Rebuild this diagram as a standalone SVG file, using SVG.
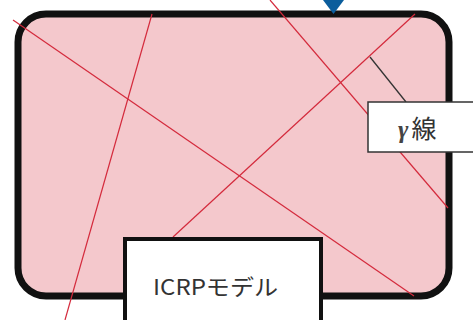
<svg xmlns="http://www.w3.org/2000/svg" width="473" height="320" viewBox="0 0 473 320">
  <style>
    .ray { stroke: #d42a3c; stroke-width: 1.2; fill: none; }
    .label-box { fill: #ffffff; }
    .label { font-family: "Noto Sans CJK JP", "Liberation Sans", sans-serif; fill: #333333; }
  </style>
  <rect width="473" height="320" fill="#ffffff"/>

  <!-- body region -->
  <g id="body">
    <rect x="18" y="14" width="431" height="282" rx="28" ry="28" fill="#f4c8cc" stroke="#111111" stroke-width="7"/>
  </g>

  <!-- incoming marker -->
  <g id="source-marker">
    <polygon points="323,0 344,0 333.5,14" fill="#0b5d9c"/>
  </g>

  <!-- photon tracks and leader -->
  <g id="connectors">
    <line class="ray" x1="13" y1="20" x2="414" y2="296"/>
    <line class="ray" x1="152" y1="14" x2="65" y2="320"/>
    <line class="ray" x1="270" y1="0" x2="448" y2="208"/>
    <line class="ray" x1="415" y1="14" x2="173" y2="237"/>
    <line x1="370" y1="57" x2="406" y2="102" stroke="#333333" stroke-width="1.3"/>
  </g>

  <g id="gamma-label">
    <rect class="label-box" x="368" y="102" width="110" height="50" stroke="#333333" stroke-width="1.5"/>
    <text class="label" x="398" y="138" font-size="25"><tspan font-family="Liberation Serif, serif" font-style="italic" font-weight="bold" fill="#444444">γ</tspan><tspan dx="3">線</tspan></text>
  </g>

  <g id="icrp-model">
    <rect class="label-box" x="125" y="239" width="196" height="90" stroke="#111111" stroke-width="4"/>
    <text class="label" x="153" y="295" font-size="22" textLength="125" lengthAdjust="spacingAndGlyphs">ICRPモデル</text>
  </g>
</svg>
